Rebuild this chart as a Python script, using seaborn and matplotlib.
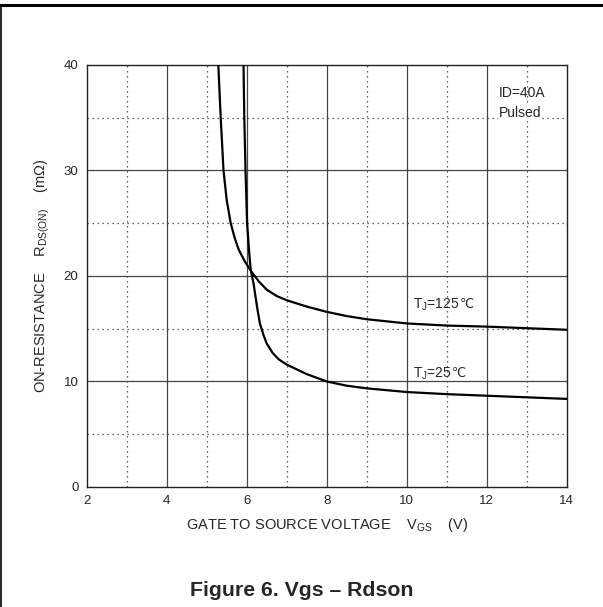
import numpy as np
import pandas as pd
import seaborn as sns
from matplotlib import pyplot as plt
from matplotlib.lines import Line2D

# values (Vgs in V, Rds(on) in mOhm)
vgs_125 = [5.29, 5.35, 5.42, 5.50, 5.60, 5.70, 5.80, 5.95, 6.10, 6.30, 6.50, 6.75, 7.00, 7.50, 8.00, 8.50, 9.00, 10.0, 11.0, 12.0, 13.0, 14.0]
rds_125 = [40.0, 35.0, 30.0, 27.2, 25.0, 23.6, 22.5, 21.4, 20.5, 19.5, 18.7, 18.1, 17.7, 17.1, 16.6, 16.2, 15.9, 15.5, 15.3, 15.2, 15.05, 14.9]
vgs_25 = [5.92, 5.94, 5.97, 6.01, 6.06, 6.10, 6.17, 6.27, 6.33, 6.42, 6.50, 6.65, 6.80, 7.00, 7.50, 8.00, 8.50, 9.00, 10.0, 11.0, 12.0, 13.0, 14.0]
rds_25 = [40.0, 35.0, 30.0, 25.0, 22.3, 20.6, 19.3, 16.8, 15.5, 14.4, 13.6, 12.7, 12.1, 11.6, 10.7, 10.0, 9.6, 9.35, 9.0, 8.8, 8.65, 8.5, 8.35]

x_ticks = [2, 4, 6, 8, 10, 12, 14]
y_ticks = [0, 10, 20, 30, 40]

df = pd.concat([
    pd.DataFrame({'vgs': vgs_125, 'rds': rds_125, 'tj': '125'}),
    pd.DataFrame({'vgs': vgs_25, 'rds': rds_25, 'tj': '25'}),
])

sns.set_style('white')
plt.rcParams['font.family'] = ['Liberation Sans', 'DejaVu Sans']
plt.rcParams['mathtext.fontset'] = 'custom'
plt.rcParams['mathtext.rm'] = 'Liberation Sans'
plt.rcParams['mathtext.it'] = 'Liberation Sans'

fig = plt.figure(figsize=(6.03, 6.07), dpi=100)
ax = fig.add_axes([0.1438, 0.1977, 0.7960, 0.6953])

# grid: solid on major, dotted on half steps
for v in [4, 6, 8, 10, 12]:
    ax.axvline(v, color='#444444', lw=0.9, zorder=1)
for v in [3, 5, 7, 9, 11, 13]:
    ax.axvline(v, color='#333333', lw=0.9, ls=(0, (1, 3)), zorder=1)
for r in [10, 20, 30]:
    ax.axhline(r, color='#444444', lw=0.9, zorder=1)
for r in [5, 15, 25, 35]:
    ax.axhline(r, color='#333333', lw=0.9, ls=(0, (1, 3)), zorder=1)

sns.lineplot(data=df, x='vgs', y='rds', units='tj', estimator=None, sort=False,
             color='black', lw=1.6, ax=ax, zorder=3)

ax.set_xlim(2, 14)
ax.set_ylim(0, 40)
ax.set_xticks(x_ticks)
ax.set_yticks(y_ticks)
ax.tick_params(length=0, labelsize=9.5, pad=6)
for s in ax.spines.values():
    s.set_color('#222222')
    s.set_linewidth(1.0)

ax.set_xlabel(r'GATE TO SOURCE VOLTAGE    V$_{GS}$    (V)', fontsize=10.5, labelpad=6)
ax.set_ylabel(r'ON-RESISTANCE    R$_{DS(ON)}$    (m$\Omega$)', fontsize=10.5, labelpad=8)

ax.text(12.3, 37.3, 'ID=40A', fontsize=10, va='center', ha='left', zorder=4)
ax.text(12.3, 35.4, 'Pulsed', fontsize=10, va='center', ha='left', zorder=4,
        bbox=dict(facecolor='white', edgecolor='none', pad=0.5))

# T_J labels; the degree sign goes in its own text so the font fallback works
for y, lab in [(16.95, '125'), (10.4, '25')]:
    t = ax.text(10.15, y, r'T$_J$=' + lab, fontsize=10, va='baseline', ha='left', zorder=4)
    ax.annotate('℃', xy=(1, 0), xycoords=t, xytext=(0.5, 1.5), textcoords='offset points',
                fontsize=9, family=['DejaVu Sans'], va='bottom', ha='left', zorder=4)

fig.text(0.50, 0.028, 'Figure 6. Vgs – Rdson', fontsize=15.3, fontweight='bold',
         ha='center', va='center')

# page frame lines
fig.add_artist(Line2D([0, 1], [0.9917, 0.9917], color='black', lw=2.2, transform=fig.transFigure))
fig.add_artist(Line2D([0.001, 0.001], [0, 0.9917], color='black', lw=1.2, transform=fig.transFigure))

fig.savefig('out.png', dpi=100)
